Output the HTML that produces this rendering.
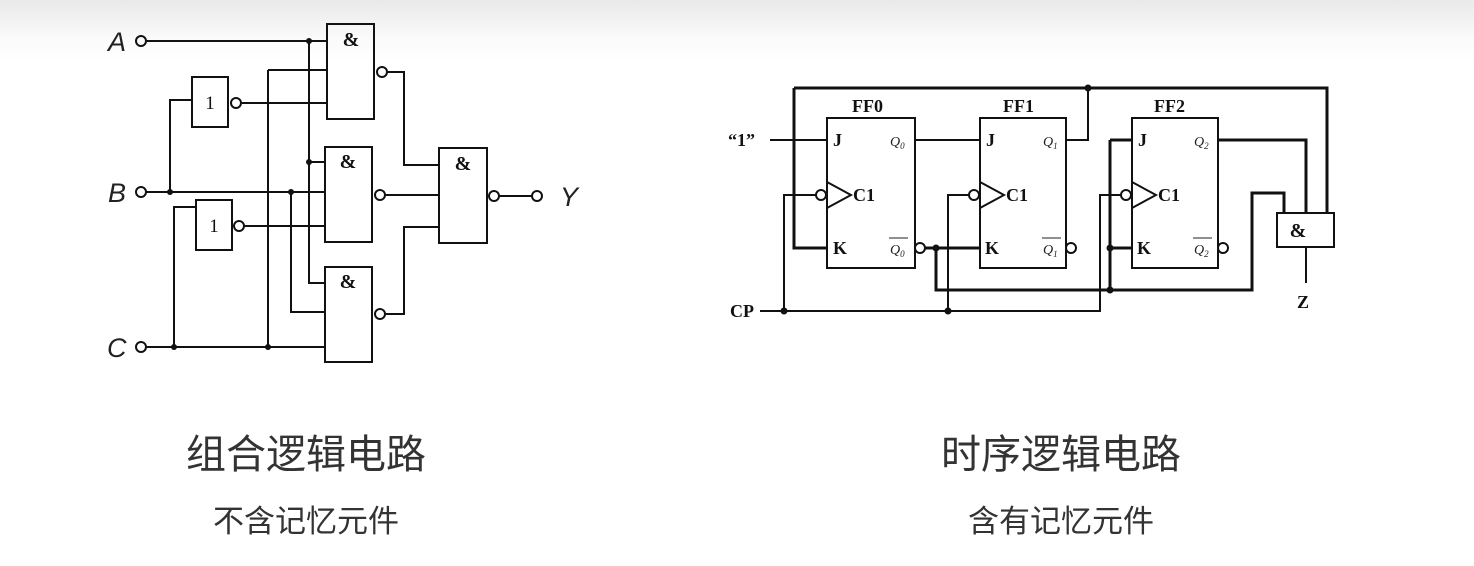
<!DOCTYPE html>
<html><head><meta charset="utf-8"><style>
html,body{margin:0;padding:0}
body{width:1474px;height:566px;background:linear-gradient(#e9e9e9 0,#fbfbfb 40px,#fff 60px);position:relative;overflow:hidden}
.t{position:absolute;font-family:"Liberation Sans","Noto Sans CJK SC",sans-serif;color:#333;text-align:center;white-space:nowrap}
</style></head><body>
<svg width="1474" height="566" style="position:absolute;left:0;top:0" xmlns="http://www.w3.org/2000/svg">
<g stroke="#111" stroke-width="2" fill="none">
<!-- left circuit -->
<rect x="327" y="24" width="47" height="95"/>
<rect x="325" y="147" width="47" height="95"/>
<rect x="325" y="267" width="47" height="95"/>
<rect x="439" y="148" width="48" height="95"/>
<rect x="192" y="77" width="36" height="50"/>
<rect x="196" y="200" width="36" height="50"/>
<circle cx="141" cy="41" r="5"/><circle cx="141" cy="192" r="5"/><circle cx="141" cy="347" r="5"/>
<circle cx="236" cy="103" r="5"/><circle cx="239" cy="226" r="5"/>
<circle cx="382" cy="72" r="5"/><circle cx="380" cy="195" r="5"/><circle cx="380" cy="314" r="5"/>
<circle cx="494" cy="196" r="5"/><circle cx="537" cy="196" r="5"/>
<path d="M146 41H327M309 41V283H325M309 162H325M268 70H327M268 70V347M241 103H327"/>
<path d="M146 192H325M170 192V100H192M291 192V312H325M244 226H325M174 347V207H196M146 347H325"/>
<path d="M387 72H404V165H439M385 195H439M385 314H404V227H439M499 196H532"/>
<!-- right circuit -->
<rect x="827" y="118" width="88" height="150"/>
<rect x="980" y="118" width="86" height="150"/>
<rect x="1132" y="118" width="86" height="150"/>
<rect x="1277" y="213" width="57" height="34"/>
<path d="M827 182L851 195L827 208M980 182L1004 195L980 208M1132 182L1156 195L1132 208"/>
<circle cx="821" cy="195" r="5"/><circle cx="974" cy="195" r="5"/><circle cx="1126" cy="195" r="5"/>
<circle cx="920" cy="248" r="5"/><circle cx="1071" cy="248" r="5"/><circle cx="1223" cy="248" r="5"/>
<path d="M770 140H827M915 140H980M1066 140H1088V88M816 195H784V311M969 195H948V311M1121 195H1100V311H760"/>
<path d="M1306 247V283"/>
</g>
<g stroke="#111" stroke-width="3" fill="none">
<path d="M794 88H1327V213M794 88V248H827M925 248H980M936 248V290H1252V193H1284V213M1110 140H1132M1110 140V290M1110 248H1132M1218 140H1306V213"/>
</g>
<g fill="#111">
<circle cx="309" cy="41" r="3"/><circle cx="309" cy="162" r="3"/><circle cx="170" cy="192" r="3"/><circle cx="291" cy="192" r="3"/><circle cx="174" cy="347" r="3"/><circle cx="268" cy="347" r="3"/>
<circle cx="1088" cy="88" r="3.5"/><circle cx="784" cy="311" r="3.5"/><circle cx="948" cy="311" r="3.5"/><circle cx="936" cy="248" r="3.5"/><circle cx="1110" cy="248" r="3.5"/><circle cx="1110" cy="290" r="3.5"/>
</g>
<g font-family="Liberation Sans,sans-serif" font-style="italic" font-size="27" fill="#222">
<text x="108" y="51">A</text><text x="108" y="202">B</text><text x="107" y="357">C</text><text x="560" y="206">Y</text>
</g>
<g font-family="Liberation Serif,serif" font-weight="bold" font-size="20" fill="#111" text-anchor="middle">
<text x="351" y="46">&amp;</text><text x="348" y="168">&amp;</text><text x="348" y="288">&amp;</text><text x="463" y="170">&amp;</text>
<text x="1298" y="237">&amp;</text>
</g>
<g font-family="Liberation Serif,serif" font-size="19" fill="#111" text-anchor="middle">
<text x="210" y="109">1</text><text x="214" y="232">1</text>
</g>
<g font-family="Liberation Serif,serif" font-weight="bold" font-size="18" fill="#111">
<text x="852" y="112">FF0</text><text x="1003" y="112">FF1</text><text x="1154" y="112">FF2</text>
<text x="728" y="146">“1”</text><text x="730" y="317">CP</text><text x="1297" y="308">Z</text>
<text x="833" y="146">J</text><text x="986" y="146">J</text><text x="1138" y="146">J</text>
<text x="853" y="201">C1</text><text x="1006" y="201">C1</text><text x="1158" y="201">C1</text>
<text x="833" y="254">K</text><text x="985" y="254">K</text><text x="1137" y="254">K</text>
</g>
<g font-family="Liberation Serif,serif" font-style="italic" font-size="14" fill="#222">
<text x="890" y="146">Q<tspan font-size="9" dy="3">0</tspan></text>
<text x="1043" y="146">Q<tspan font-size="9" dy="3">1</tspan></text>
<text x="1194" y="146">Q<tspan font-size="9" dy="3">2</tspan></text>
<text x="890" y="254">Q<tspan font-size="9" dy="3">0</tspan></text>
<text x="1043" y="254">Q<tspan font-size="9" dy="3">1</tspan></text>
<text x="1194" y="254">Q<tspan font-size="9" dy="3">2</tspan></text>
</g>
<path d="M889 238H908M1042 238H1061M1193 238H1212" stroke="#222" stroke-width="1"/>
</svg>
<div class="t" style="left:156px;width:300px;top:422px;font-size:40px">组合逻辑电路</div>
<div class="t" style="left:156px;width:300px;top:496px;font-size:31px">不含记忆元件</div>
<div class="t" style="left:911px;width:300px;top:422px;font-size:40px">时序逻辑电路</div>
<div class="t" style="left:911px;width:300px;top:496px;font-size:31px">含有记忆元件</div>
</body></html>
